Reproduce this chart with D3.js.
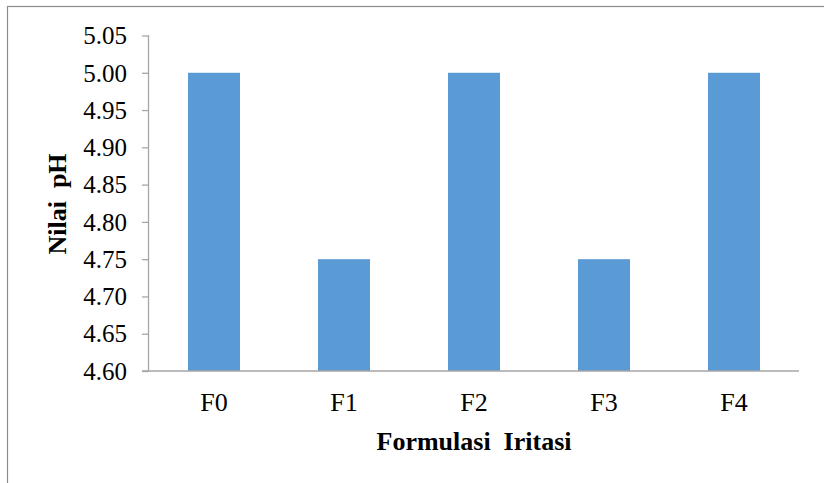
<!DOCTYPE html>
<html>
<head>
<meta charset="utf-8">
<script src="https://cdn.jsdelivr.net/npm/d3@7"></script>
<style>
  html, body { margin: 0; padding: 0; background: #fff; }
  svg { display: block; }
  text { font-family: "Liberation Serif", "Times New Roman", serif; }
</style>
</head>
<body>
<svg id="chart" width="824" height="483"></svg>
<script>
const categories = ["F0", "F1", "F2", "F3", "F4"];
const values = [5.00, 4.75, 5.00, 4.75, 5.00];
const yTicks = [4.60, 4.65, 4.70, 4.75, 4.80, 4.85, 4.90, 4.95, 5.00, 5.05];
const xTitle = "Formulasi  Iritasi";
const yTitle = "Nilai  pH";

const svg = d3.select("#chart");
const axisColor = "#A6A6A6";
const font = "Liberation Serif";

// outer border (cropped at right/bottom)
svg.append("rect")
  .attr("x", 7.5).attr("y", 6.5)
  .attr("width", 1000).attr("height", 1000)
  .attr("fill", "none").attr("stroke", "#8c8c8c").attr("stroke-width", 1.2);

const plotLeft = 149, plotRight = 799, plotTop = 35.5, plotBottom = 371;

const x = d3.scaleBand().domain(categories).range([plotLeft, plotRight])
  .paddingInner(0.6).paddingOuter(0.3);
const y = d3.scaleLinear().domain([4.60, 5.05]).range([plotBottom, plotTop]);

// bars
svg.append("g").selectAll("rect").data(categories).join("rect")
  .attr("x", d => x(d))
  .attr("width", x.bandwidth())
  .attr("y", (d, i) => y(values[i]))
  .attr("height", (d, i) => y(4.60) - y(values[i]))
  .attr("fill", "#5B9BD5");

// y axis
const yAxis = d3.axisLeft(y).tickValues(yTicks).tickFormat(d3.format(".2f"))
  .tickSize(7).tickPadding(15);
const gy = svg.append("g").attr("transform", `translate(${plotLeft},0)`).call(yAxis)
  .attr("font-family", font).attr("font-size", 25);
gy.select(".domain").attr("stroke", axisColor).attr("stroke-width", 1.3)
  .attr("d", `M-0.5,${plotTop}V${plotBottom}`);
gy.selectAll(".tick line").attr("stroke", axisColor).attr("stroke-width", 1.3);
gy.selectAll(".tick text").attr("fill", "#000").attr("dy", "0.33em");

// x axis
const xAxis = d3.axisBottom(x).tickSize(0).tickPadding(22);
const gx = svg.append("g").attr("transform", `translate(0,${plotBottom})`).call(xAxis)
  .attr("font-family", font).attr("font-size", 26);
gx.select(".domain").attr("stroke", axisColor).attr("stroke-width", 1.5)
  .attr("d", `M142,0H${plotRight}`);
gx.selectAll(".tick text").attr("fill", "#000");

// titles
svg.append("text")
  .attr("x", 474).attr("y", 450)
  .attr("text-anchor", "middle")
  .attr("font-family", font).attr("font-size", 26).attr("font-weight", "bold")
  .style("white-space", "pre")
  .text(xTitle);

svg.append("text")
  .attr("transform", `translate(66,204) rotate(-90)`)
  .attr("text-anchor", "middle")
  .attr("font-family", font).attr("font-size", 26).attr("font-weight", "bold")
  .style("white-space", "pre")
  .text(yTitle);
</script>
</body>
</html>
